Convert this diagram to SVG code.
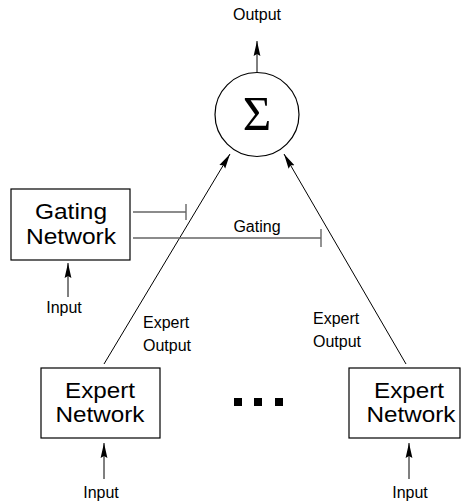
<svg xmlns="http://www.w3.org/2000/svg" width="462" height="504" viewBox="0 0 462 504">
<style>
.box{fill:#fff;stroke:#000;stroke-width:1.2}
.big{font-family:"Liberation Sans",Arial,sans-serif;font-size:21.5px;fill:#000;text-anchor:middle}
.sm{font-family:"Liberation Sans",Arial,sans-serif;font-size:16px;fill:#000}
.c{text-anchor:middle}
.ln{stroke:#000;stroke-width:1;fill:none}
.gt{stroke:#666;stroke-width:1.4;fill:none}
</style>
<defs>
<marker id="arr" viewBox="0 0 15 8" markerWidth="15" markerHeight="8" refX="15" refY="4" orient="auto" markerUnits="userSpaceOnUse">
<path d="M0,0.6 L15,4 L0,7.4 L2,4 z" fill="#000"/>
</marker>
</defs>
<rect width="462" height="504" fill="#fff"/>
<g id="connectors">
<line class="ln" x1="257" y1="72" x2="257" y2="41" marker-end="url(#arr)"/>
<line class="ln" x1="104" y1="364" x2="230" y2="154" marker-end="url(#arr)"/>
<line class="ln" x1="406" y1="364" x2="284" y2="154" marker-end="url(#arr)"/>
<line class="ln" x1="68" y1="297" x2="68" y2="263" marker-end="url(#arr)"/>
<line class="ln" x1="104" y1="479" x2="104" y2="443" marker-end="url(#arr)"/>
<line class="ln" x1="409" y1="479" x2="409" y2="443" marker-end="url(#arr)"/>
<path class="gt" d="M133,212 H186 M186,204 V220"/>
<path class="gt" d="M133,238 H321 M321,229 V247"/>
<text class="sm c" x="257" y="20">Output</text>
<text class="sm c" x="257" y="232">Gating</text>
<text class="sm" x="143" y="328">Expert</text>
<text class="sm" x="143" y="351">Output</text>
<text class="sm" x="313" y="324">Expert</text>
<text class="sm" x="313" y="347">Output</text>
<text class="sm c" x="64" y="313">Input</text>
<text class="sm c" x="101" y="498">Input</text>
<text class="sm c" x="410" y="498">Input</text>
</g>
<g id="sum">
<circle cx="257" cy="114.5" r="42" fill="#fff" stroke="#000" stroke-width="1.2"/>
<text x="257" y="130" font-family="'Liberation Serif','Times New Roman',serif" font-size="49" text-anchor="middle">Σ</text>
</g>
<g id="gating">
<rect class="box" x="11" y="189" width="119" height="71"/>
<text class="big" x="71" y="219" textLength="72" lengthAdjust="spacingAndGlyphs">Gating</text>
<text class="big" x="71" y="244" textLength="90" lengthAdjust="spacingAndGlyphs">Network</text>
</g>
<g id="expert1">
<rect class="box" x="41" y="368" width="119" height="70"/>
<text class="big" x="100" y="398" textLength="70" lengthAdjust="spacingAndGlyphs">Expert</text>
<text class="big" x="100" y="422" textLength="89" lengthAdjust="spacingAndGlyphs">Network</text>
</g>
<g id="dots">
<rect x="234" y="398" width="8" height="8"/>
<rect x="254" y="398" width="8" height="8"/>
<rect x="275" y="398" width="8" height="8"/>
</g>
<g id="expert2">
<rect class="box" x="349" y="368" width="111" height="70"/>
<text class="big" x="409" y="398" textLength="70" lengthAdjust="spacingAndGlyphs">Expert</text>
<text class="big" x="411" y="422" textLength="89" lengthAdjust="spacingAndGlyphs">Network</text>
</g>
</svg>
